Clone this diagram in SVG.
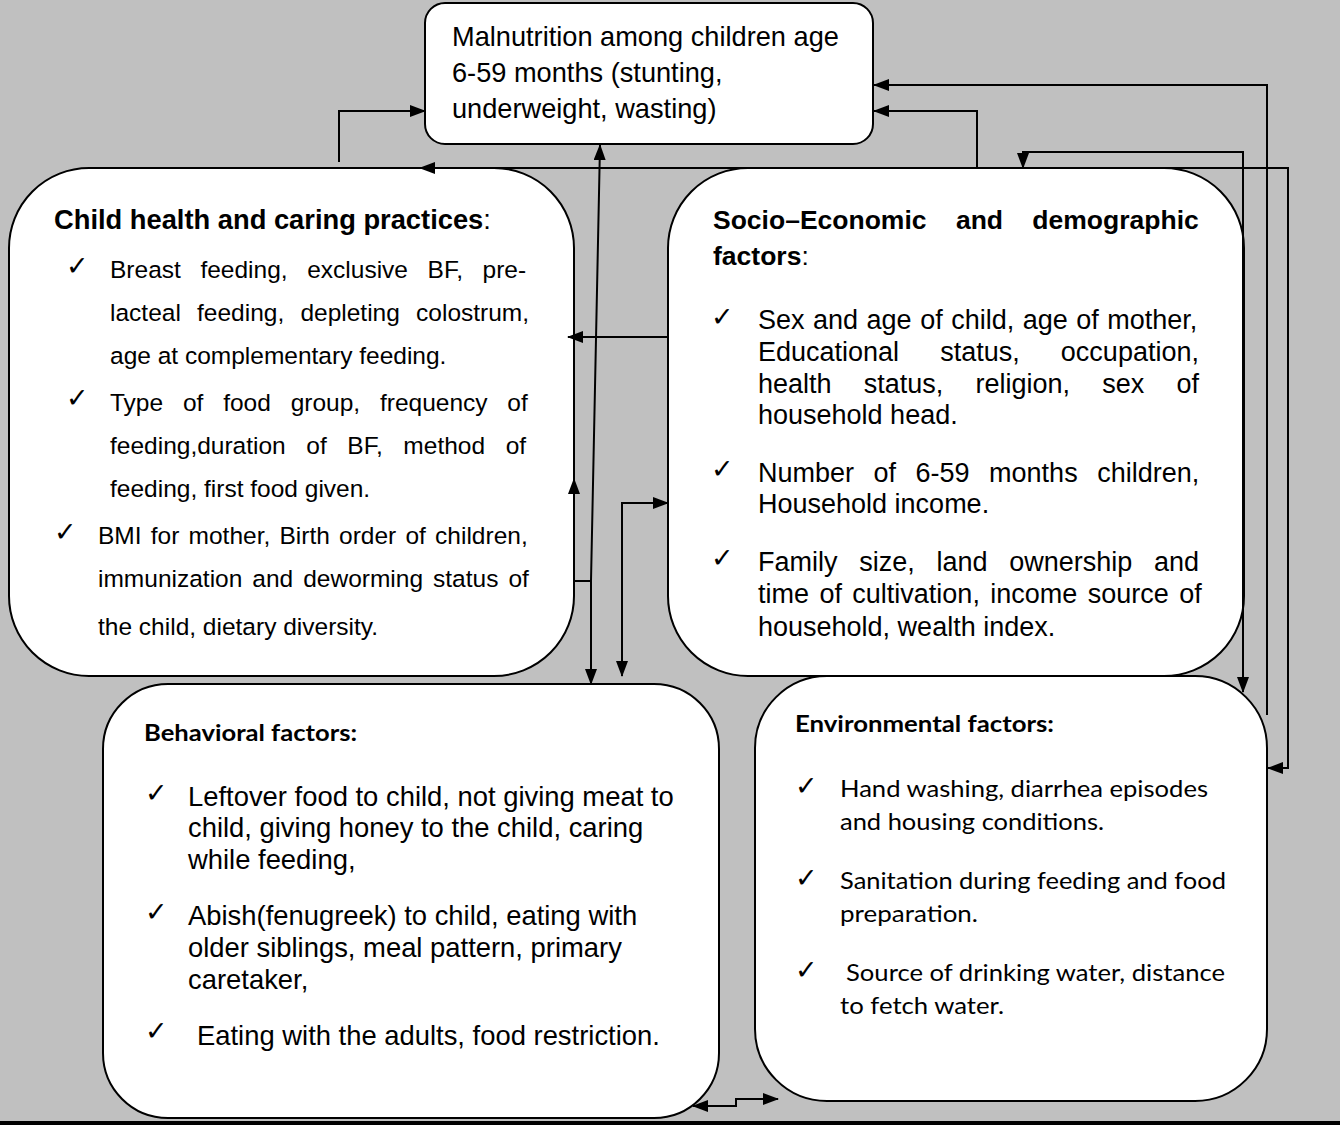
<svg xmlns="http://www.w3.org/2000/svg" width="1340" height="1125" viewBox="0 0 1340 1125">
<style>
.box{fill:#fff;stroke:#000;stroke-width:2}
.ar{font-family:"Liberation Sans",Arial,sans-serif;fill:#000}
.cal{font-family:Lato,"Open Sans",sans-serif;fill:#000}
.b{font-weight:bold}
.ck{font-family:"DejaVu Sans",sans-serif;font-size:27px;fill:#000}
.cn{fill:none;stroke:#000;stroke-width:2}
</style>
<defs>
<marker id="ah" viewBox="0 0 16 12" refX="15" refY="6" markerWidth="16" markerHeight="12" markerUnits="userSpaceOnUse" orient="auto-start-reverse"><path d="M0,0 L16,6 L0,12 z" fill="#000"/></marker>
</defs>
<rect x="0" y="0" width="1340" height="1125" fill="#c0c0c0"/>
<rect x="0" y="1121" width="1340" height="4" fill="#000"/>

<g id="malnutrition">
<rect class="box" x="425" y="3" width="448" height="141" rx="20"/>
<text class="ar" font-size="27.2" x="452" y="46">Malnutrition among children age</text>
<text class="ar" font-size="27.2" x="452" y="82">6-59 months (stunting,</text>
<text class="ar" font-size="27.2" x="452" y="118">underweight, wasting)</text>
</g>

<g id="child-health">
<rect class="box" x="9" y="168" width="565" height="508" rx="80"/>
<text class="ar" font-size="27.3" x="54" y="229"><tspan class="b">Child health and caring practices</tspan>:</text>
<text class="ck" x="66" y="275">✓</text>
<text class="ar" font-size="24.5" x="110" y="278" word-spacing="12.8">Breast feeding, exclusive BF, pre-</text>
<text class="ar" font-size="24.5" x="110" y="321" word-spacing="9.4">lacteal feeding, depleting colostrum,</text>
<text class="ar" font-size="24.5" x="110" y="364">age at complementary feeding.</text>
<text class="ck" x="66" y="407">✓</text>
<text class="ar" font-size="24.5" x="110" y="411" word-spacing="13">Type of food group, frequency of</text>
<text class="ar" font-size="24.5" x="110" y="454" word-spacing="13.8">feeding,duration of BF, method of</text>
<text class="ar" font-size="24.5" x="110" y="497">feeding, first food given.</text>
<text class="ck" x="54" y="541">✓</text>
<text class="ar" font-size="24.5" x="98" y="544" word-spacing="2.4">BMI for mother, Birth order of children,</text>
<text class="ar" font-size="24.5" x="98" y="587" word-spacing="3.2">immunization and deworming status of</text>
<text class="ar" font-size="24.5" x="98" y="635">the child, dietary diversity.</text>
</g>

<g id="socio-economic">
<rect class="box" x="668" y="168" width="576" height="508" rx="80"/>
<text class="ar b" font-size="26.5" x="713" y="229" word-spacing="22">Socio–Economic and demographic</text>
<text class="ar" font-size="26.5" x="713" y="265"><tspan class="b">factors</tspan>:</text>
<text class="ck" x="711" y="326">✓</text>
<text class="ar" font-size="27" x="758" y="329" word-spacing="1">Sex and age of child, age of mother,</text>
<text class="ar" font-size="27" x="758" y="361" word-spacing="33.6">Educational status, occupation,</text>
<text class="ar" font-size="27" x="758" y="393" word-spacing="24.7">health status, religion, sex of</text>
<text class="ar" font-size="27" x="758" y="424">household head.</text>
<text class="ck" x="711" y="478">✓</text>
<text class="ar" font-size="27" x="758" y="482" word-spacing="12">Number of 6-59 months children,</text>
<text class="ar" font-size="27" x="758" y="513">Household income.</text>
<text class="ck" x="711" y="567">✓</text>
<text class="ar" font-size="27" x="758" y="571" word-spacing="14.2">Family size, land ownership and</text>
<text class="ar" font-size="27" x="758" y="603" word-spacing="2.9">time of cultivation, income source of</text>
<text class="ar" font-size="27" x="758" y="636">household, wealth index.</text>
</g>

<g id="behavioral">
<rect class="box" x="103" y="684" width="616" height="434" rx="65"/>
<text class="cal b" font-size="23" x="144" y="741" textLength="213" lengthAdjust="spacingAndGlyphs">Behavioral factors:</text>
<text class="ck" x="145" y="802">✓</text>
<text class="ar" font-size="27.4" x="188" y="806">Leftover food to child, not giving meat to</text>
<text class="ar" font-size="27.4" x="188" y="837">child, giving honey to the child, caring</text>
<text class="ar" font-size="27.4" x="188" y="869">while feeding,</text>
<text class="ck" x="145" y="921">✓</text>
<text class="ar" font-size="27.4" x="188" y="925">Abish(fenugreek) to child, eating with</text>
<text class="ar" font-size="27.4" x="188" y="957">older siblings, meal pattern, primary</text>
<text class="ar" font-size="27.4" x="188" y="989">caretaker,</text>
<text class="ck" x="145" y="1040">✓</text>
<text class="ar" font-size="27.4" x="197" y="1045">Eating with the adults, food restriction.</text>
</g>

<g id="environmental">
<rect class="box" x="755" y="676" width="512" height="425" rx="72"/>
<text class="cal b" font-size="23" x="795" y="732" textLength="259" lengthAdjust="spacingAndGlyphs">Environmental factors:</text>
<text class="ck" x="795" y="795">✓</text>
<text class="cal" font-size="24" x="840" y="797" textLength="368" lengthAdjust="spacingAndGlyphs">Hand washing, diarrhea episodes</text>
<text class="cal" font-size="24" x="840" y="830" textLength="264" lengthAdjust="spacingAndGlyphs">and housing conditions.</text>
<text class="ck" x="795" y="887">✓</text>
<text class="cal" font-size="24" x="840" y="889" textLength="386" lengthAdjust="spacingAndGlyphs">Sanitation during feeding and food</text>
<text class="cal" font-size="24" x="840" y="922" textLength="138" lengthAdjust="spacingAndGlyphs">preparation.</text>
<text class="ck" x="795" y="979">✓</text>
<text class="cal" font-size="24" x="846" y="981" textLength="379" lengthAdjust="spacingAndGlyphs">Source of drinking water, distance</text>
<text class="cal" font-size="24" x="840" y="1014" textLength="164" lengthAdjust="spacingAndGlyphs">to fetch water.</text>
</g>

<g id="connectors">
<path class="cn" d="M339,162 V111 H425" marker-end="url(#ah)"/>
<path class="cn" d="M420,168 H1288 V768 H1268" marker-start="url(#ah)" marker-end="url(#ah)"/>
<path class="cn" d="M600,145 L591,581 V684" marker-start="url(#ah)" marker-end="url(#ah)"/>
<path class="cn" d="M574,581 H591"/>
<path class="cn" d="M574,581 V479" marker-end="url(#ah)"/>
<path class="cn" d="M668,337 H568" marker-end="url(#ah)"/>
<path class="cn" d="M668,503 H622 V676" marker-start="url(#ah)" marker-end="url(#ah)"/>
<path class="cn" d="M1267,715 V85 H874" marker-end="url(#ah)"/>
<path class="cn" d="M977,168 V111 H874" marker-end="url(#ah)"/>
<path class="cn" d="M1023,168 V152 H1243 V692" marker-start="url(#ah)" marker-end="url(#ah)"/>
<path class="cn" d="M693,1106 H736 V1099 H778" marker-start="url(#ah)" marker-end="url(#ah)"/>
</g>
</svg>
